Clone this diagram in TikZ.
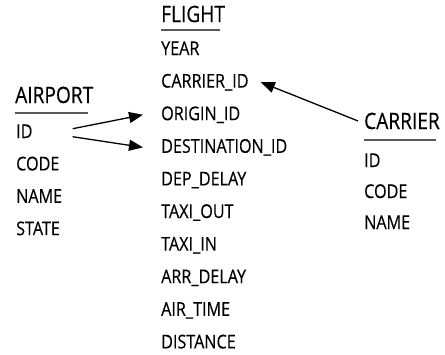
\documentclass[tikz,border=0pt]{standalone}
\usepackage{fontspec}
\setmainfont{Open Sans}[FakeStretch=0.85, FakeBold=0.35]
\usetikzlibrary{arrows.meta,calc}
\tikzset{
  field/.style={anchor=base west, inner sep=0pt, font=\fontsize{19}{22}\selectfont},
  title/.style={anchor=base west, inner sep=0pt, font=\fontsize{22.5}{26}\selectfont},
  rule/.style={draw=black!65, line width=1.4pt},
  link/.style={draw=black, line width=1.3pt, -{Triangle[length=14pt,width=11pt]}}
}
\begin{document}
\begin{tikzpicture}[x=1pt, y=-1pt]
  \useasboundingbox (0,0) rectangle (445,354);

  % FLIGHT table
  \node[title] (ft) at (161,22) {FLIGHT};
  \draw[rule] ($(ft.base west)+(0,8)$) -- ($(ft.base east)+(-5,8)$);
  \foreach \n/\t [count=\i from 0] in {
      fyear/YEAR, fcarrier/CARRIER\_ID, forigin/ORIGIN\_ID,
      fdest/DESTINATION\_ID, fdep/DEP\_DELAY, ftout/TAXI\_OUT,
      ftin/TAXI\_IN, farr/ARR\_DELAY, fair/AIR\_TIME, fdist/DISTANCE}
    \node[field] (\n) at (161,55+32.6*\i) {\t};

  % AIRPORT table
  \node[title] (at) at (15,103) {AIRPORT};
  \draw[rule] ($(at.base west)+(0,10)$) -- ($(at.base east)+(-5,10)$);
  \foreach \n/\t [count=\i from 0] in {aid/ID, acode/CODE, aname/NAME, astate/STATE}
    \node[field] (\n) at (16,138+32.4*\i) {\t};

  % CARRIER table
  \node[title] (ct) at (364,129) {CARRIER};
  \draw[rule] ($(ct.base west)+(0,11)$) -- ($(ct.base east)+(-4,11)$);
  \foreach \n/\t [count=\i from 0] in {cid/ID, ccode/CODE, cname/NAME}
    \node[field] (\n) at (364,167+31*\i) {\t};

  % foreign keys
  \draw[link] ([xshift=40pt,yshift=2.5pt]aid.east) -- ([xshift=-18pt]forigin.west);
  \draw[link] ([xshift=40pt,yshift=-5.5pt]aid.east) -- ([xshift=-18pt,yshift=0pt]fdest.west);
  \draw[link] ([xshift=-6pt]ct.west) -- ([xshift=12pt]fcarrier.east);
\end{tikzpicture}
\end{document}
